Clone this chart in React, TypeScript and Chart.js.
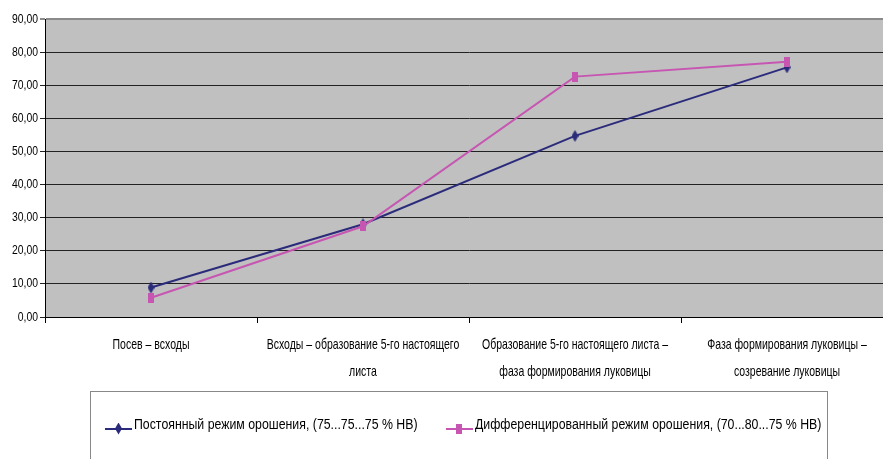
import React, { useEffect, useRef } from "react";
import { Chart, registerables } from "chart.js";

Chart.register(...registerables);

// Growth stages (x categories), split into wrapped lines
const stages: string[][] = [
  ["Посев – всходы"],
  ["Всходы – образование 5-го настоящего", "листа"],
  ["Образование 5-го настоящего листа –", "фаза формирования луковицы"],
  ["Фаза формирования луковицы –", "созревание луковицы"],
];

// Series values
const constantRegime: number[] = [8.9, 28.0, 54.7, 75.4];
const differentiatedRegime: number[] = [5.8, 27.4, 72.6, 77.1];

const seriesNames: string[] = [
  "Постоянный режим орошения, (75...75...75 % НВ)",
  "Дифференцированный режим орошения, (70...80...75 % НВ)",
];

// Y axis range
const yMin = 0;
const yMax = 90;
const yStep = 10;

const BLUE = "#2b2b7c";
const PINK = "#c656b2";
const FONT = "'Liberation Sans', Arial, sans-serif";

// Narrow lettering: regular face squeezed horizontally
const Y_LABEL_SCALE = 0.8;
const X_LABEL_SCALE = 0.7;
const LEGEND_SCALE = 0.795;

function makeDiamond(color: string, w: number, h: number): HTMLCanvasElement {
  const c = document.createElement("canvas");
  c.width = w;
  c.height = h;
  const g = c.getContext("2d")!;
  g.fillStyle = color;
  g.beginPath();
  g.moveTo(w / 2, 0);
  g.lineTo(w, h / 2);
  g.lineTo(w / 2, h);
  g.lineTo(0, h / 2);
  g.closePath();
  g.fill();
  return c;
}

function makeRect(color: string, w: number, h: number): HTMLCanvasElement {
  const c = document.createElement("canvas");
  c.width = w;
  c.height = h;
  const g = c.getContext("2d")!;
  g.fillStyle = color;
  g.fillRect(0, 0, w, h);
  return c;
}

function drawSqueezed(ctx: CanvasRenderingContext2D, text: string, x: number, y: number, sx: number) {
  ctx.save();
  ctx.translate(x, y);
  ctx.scale(sx, 1);
  ctx.fillText(text, 0, 0);
  ctx.restore();
}

const plotBackground = {
  id: "plotBackground",
  beforeDraw(chart: any) {
    const { ctx, chartArea } = chart;
    ctx.save();
    ctx.fillStyle = "#c0c0c0";
    ctx.fillRect(chartArea.left, chartArea.top, chartArea.right - chartArea.left, chartArea.bottom - chartArea.top);
    ctx.restore();
  },
};

// Tick labels in a condensed style
const narrowTickLabels = {
  id: "narrowTickLabels",
  afterDraw(chart: any) {
    const { ctx } = chart;
    const xs = chart.scales.x;
    const ys = chart.scales.y;
    ctx.save();
    ctx.fillStyle = "#000";
    ctx.textBaseline = "middle";

    ctx.font = `13px ${FONT}`;
    ctx.textAlign = "right";
    ys.ticks.forEach((t: any, i: number) => {
      const py = ys.getPixelForTick(i);
      const label = Number(t.value).toFixed(2).replace(".", ",");
      drawSqueezed(ctx, label, ys.right - 7, py, Y_LABEL_SCALE);
    });

    ctx.font = `15px ${FONT}`;
    ctx.textAlign = "center";
    (chart.data.labels as string[][]).forEach((lines, i) => {
      const px = xs.getPixelForTick(i);
      lines.forEach((line, j) => {
        drawSqueezed(ctx, line, px, xs.top + 28 + j * 27, X_LABEL_SCALE);
      });
    });
    ctx.restore();
  },
};

function LegendItem({ color, shape, text, left }: { color: string; shape: "diamond" | "rect"; text: string; left: number }) {
  return (
    <div style={{ position: "absolute", left, top: 414, height: 20, display: "flex", alignItems: "center", whiteSpace: "nowrap" }}>
      <div style={{ position: "relative", width: 27, height: 12, marginTop: 9, flex: "0 0 auto" }}>
        <div style={{ position: "absolute", left: 0, top: 5, width: 27, height: 2, background: color }} />
        {shape === "diamond" ? (
          <div
            style={{
              position: "absolute",
              left: 10,
              top: 0,
              width: 7,
              height: 12,
              background: color,
              clipPath: "polygon(50% 0, 100% 50%, 50% 100%, 0 50%)",
            }}
          />
        ) : (
          <div style={{ position: "absolute", left: 10, top: 1, width: 6, height: 10, background: color }} />
        )}
      </div>
      <span
        style={{
          marginLeft: 2,
          fontFamily: FONT,
          fontSize: 15.5,
          color: "#000",
          display: "inline-block",
          transform: `scaleX(${LEGEND_SCALE})`,
          transformOrigin: "left center",
        }}
      >
        {text}
      </span>
    </div>
  );
}

export default function App() {
  const canvasRef = useRef<HTMLCanvasElement | null>(null);

  useEffect(() => {
    if (!canvasRef.current) return;
    const chart = new Chart(canvasRef.current, {
      type: "line",
      data: {
        labels: stages,
        datasets: [
          {
            label: seriesNames[0],
            data: constantRegime,
            borderColor: BLUE,
            backgroundColor: BLUE,
            borderWidth: 2,
            pointStyle: makeDiamond(BLUE, 7, 12) as any,
            pointRadius: 5,
            tension: 0,
            order: 2,
          },
          {
            label: seriesNames[1],
            data: differentiatedRegime,
            borderColor: PINK,
            backgroundColor: PINK,
            borderWidth: 2,
            pointStyle: makeRect(PINK, 6, 10) as any,
            pointRadius: 5,
            tension: 0,
            order: 1,
          },
        ],
      },
      options: {
        animation: false,
        responsive: false,
        maintainAspectRatio: false,
        layout: { padding: { top: 19, right: 6, left: 0, bottom: 0 } },
        plugins: {
          legend: { display: false },
          tooltip: { enabled: false },
        },
        scales: {
          x: {
            type: "category",
            offset: true,
            grid: {
              offset: true,
              drawOnChartArea: false,
              drawTicks: true,
              tickLength: 6,
              color: "#000",
            },
            border: { display: true, color: "#000", width: 1 },
            ticks: { display: false, autoSkip: false, maxRotation: 0, minRotation: 0 },
            afterFit(scale: any) {
              scale.height = 142;
            },
          },
          y: {
            min: yMin,
            max: yMax,
            grid: {
              color: (ctx: any) => (ctx.tick && ctx.tick.value === yMax ? "#8a8a8a" : "#222"),
              lineWidth: (ctx: any) => (ctx.tick && ctx.tick.value === yMax ? 2 : 1),
              drawTicks: true,
              tickLength: 5,
            },
            border: { display: true, color: "#000", width: 1 },
            ticks: { display: false, stepSize: yStep },
            afterFit(scale: any) {
              scale.width = 45;
            },
          },
        },
      },
      plugins: [plotBackground, narrowTickLabels],
    });
    return () => chart.destroy();
  }, []);

  return (
    <div style={{ position: "absolute", left: 0, top: 0, width: 883, height: 459, overflow: "hidden", background: "#fff" }}>
      <canvas ref={canvasRef} width={900} height={459} style={{ display: "block", width: 900, height: 459 }} />
      <div
        style={{
          position: "absolute",
          left: 90,
          top: 391,
          width: 738,
          height: 80,
          border: "1px solid #888",
          boxSizing: "border-box",
        }}
      />
      <LegendItem color={BLUE} shape="diamond" text={seriesNames[0]} left={105} />
      <LegendItem color={PINK} shape="rect" text={seriesNames[1]} left={446} />
    </div>
  );
}
